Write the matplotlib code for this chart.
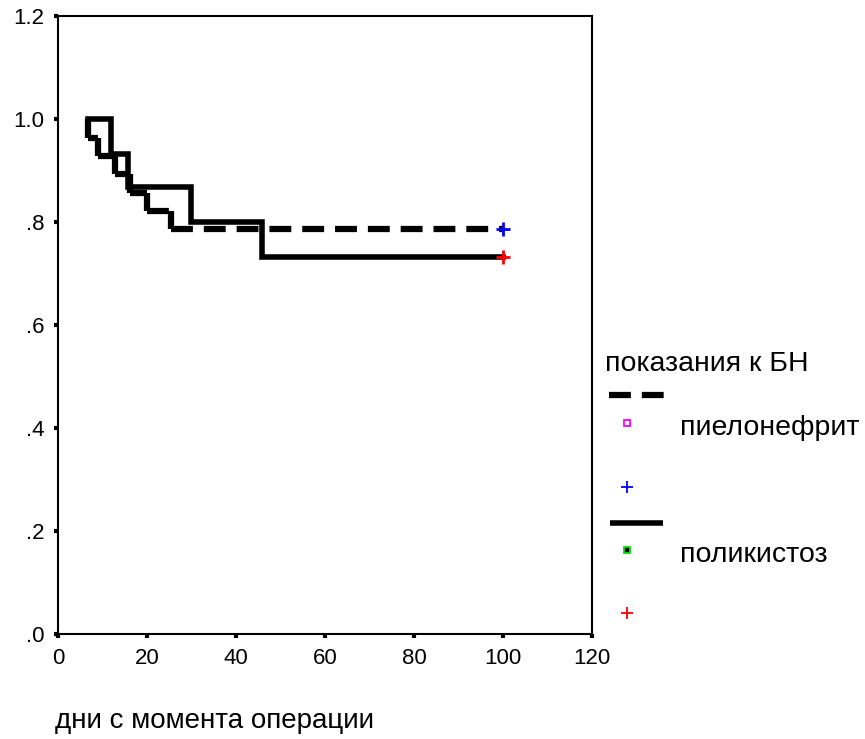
import matplotlib
matplotlib.use("Agg")
import matplotlib.pyplot as plt
from matplotlib.lines import Line2D

plt.rcParams["font.family"] = ["Liberation Sans", "DejaVu Sans"]

# Kaplan-Meier step data (days, cumulative survival)
pyelo_days = [6.7, 6.7, 9.0, 12.8, 16.2, 20.1, 25.4, 100.0]
pyelo_surv = [1.0, 0.964, 0.929, 0.893, 0.857, 0.821, 0.786, 0.786]

poly_days = [6.7, 11.9, 15.8, 29.8, 45.8, 100.0]
poly_surv = [1.0, 0.933, 0.867, 0.800, 0.733, 0.733]

# censored observations
pyelo_cens_day, pyelo_cens_surv = [100.0], [0.786]
poly_cens_day, poly_cens_surv = [100.0], [0.733]

x_ticks = [0, 20, 40, 60, 80, 100, 120]
y_ticks = [0.0, 0.2, 0.4, 0.6, 0.8, 1.0, 1.2]
y_tick_labels = [".0", ".2", ".4", ".6", ".8", "1.0", "1.2"]

legend_title = "показания к БН"
group_names = ["пиелонефрит", "поликистоз"]
x_label = "дни с момента операции"

W, H = 865, 739
fig = plt.figure(figsize=(W / 100, H / 100), dpi=100)
ax = fig.add_axes([58 / W, 1 - 634 / H, (592 - 58) / W, (634 - 16) / H])

LW = 4.0
DASH_LW = 4.5
DASH = (0, (3.5, 1.75))


def step_segments(days, surv):
    # split a KM curve into horizontal and vertical pieces (SPSS draws them one by one)
    segs = []
    for i in range(len(days) - 1):
        segs.append(([days[i], days[i + 1]], [surv[i], surv[i]]))
        if surv[i + 1] != surv[i]:
            segs.append(([days[i + 1], days[i + 1]], [surv[i], surv[i + 1]]))
    return segs


for xs, ys in step_segments(pyelo_days, pyelo_surv):
    if xs[0] == xs[1] and ys[0] == ys[1]:
        continue
    ax.plot(xs, ys, color="black", lw=DASH_LW, linestyle=DASH,
            solid_capstyle="butt", dash_capstyle="butt")

ax.plot(poly_days, poly_surv, color="black", lw=LW, drawstyle="steps-post",
        solid_joinstyle="miter")

ax.plot(pyelo_cens_day, pyelo_cens_surv, linestyle="none", marker="+",
        color="blue", markersize=9.5, mew=2, zorder=5)
ax.plot(poly_cens_day, poly_cens_surv, linestyle="none", marker="+",
        color="red", markersize=9.5, mew=2, zorder=5)

ax.set_xlim(0, 120)
ax.set_ylim(0, 1.2)
ax.set_xticks(x_ticks)
ax.set_xticklabels([str(t) for t in x_ticks])
ax.set_yticks(y_ticks)
ax.set_yticklabels(y_tick_labels)
ax.tick_params(direction="out", length=3, width=3, color="black",
               labelsize=16, pad=7)
for sp in ax.spines.values():
    sp.set_linewidth(1.5)

# x label sits at the lower left, SPSS style
fig.text(55 / W, 1 - 728 / H, x_label, fontsize=20, ha="left", va="baseline")

# hand-built legend to the right of the plot
lax = fig.add_axes([0, 0, 1, 1])
lax.set_xlim(0, W)
lax.set_ylim(H, 0)
lax.axis("off")

lax.text(605, 364, legend_title, fontsize=20.5, ha="left", va="center")
lax.add_line(Line2D([609, 665], [395, 395], color="black", lw=DASH_LW,
                    linestyle=DASH, dash_capstyle="butt"))
lax.plot([627], [423], marker="s", markersize=5, mfc="white", mec="magenta",
         mew=1.3, linestyle="none")
lax.text(680, 428, group_names[0], fontsize=20.5, ha="left", va="center")
lax.plot([627], [487], marker="+", markersize=9, color="blue", mew=1.3,
         linestyle="none")
lax.add_line(Line2D([610, 663], [523, 523], color="black", lw=LW,
                    solid_capstyle="butt"))
lax.plot([627], [550], marker="s", markersize=5, mfc="black", mec="#00e000",
         mew=1.3, linestyle="none")
lax.text(680, 555, group_names[1], fontsize=20.5, ha="left", va="center")
lax.plot([627], [613], marker="+", markersize=9, color="red", mew=1.3,
         linestyle="none")

fig.savefig("out.png", dpi=100)
